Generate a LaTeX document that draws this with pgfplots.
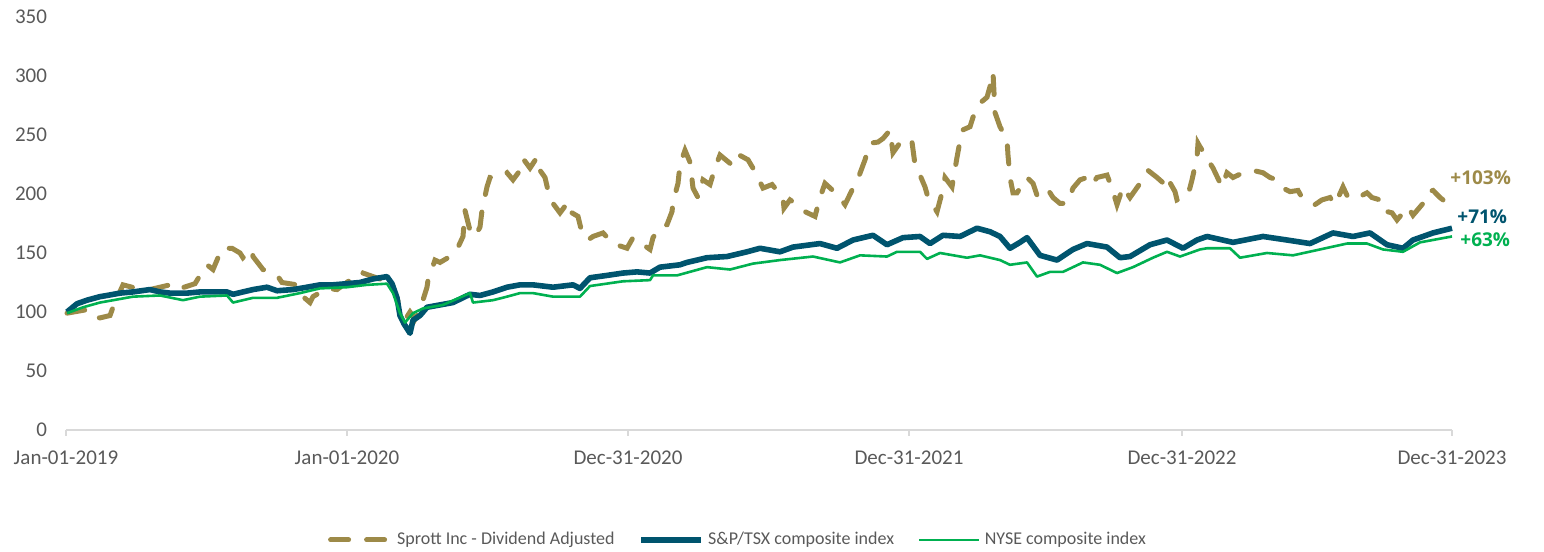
\documentclass[border=0pt]{standalone}
\usepackage{pgfplots}
\usepackage{pgfplotstable}
\pgfplotsset{compat=1.18}
\usepackage{fontspec}
\setmainfont{Carlito}
\newfontfamily\pctfont{Open Sans}
\definecolor{sgold}{RGB}{157,138,72}
\definecolor{sblue}{RGB}{0,84,110}
\definecolor{sgreen}{RGB}{0,176,80}
\definecolor{axgray}{RGB}{217,217,217}
\definecolor{txtgray}{RGB}{89,89,89}

\pgfplotstableread{
x y
1 99
21 102
27 96
34 95
44 97
47 104
57 123
66 121
76 120
84 119
104 123
111 119
129 124
134 131
141 140
147 136
156 154
166 154
174 150
177 146
186 153
187 147
197 136
204 134
212 130
216 125
231 123
237 113
244 108
247 113
261 120
271 119
284 127
291 127
297 133
307 130
317 127
324 129
334 104
341 96
344 100
349 94
354 102
361 121
362 127
369 144
374 142
384 147
391 153
397 164
399 186
404 169
409 164
414 172
416 186
421 206
424 214
434 214
441 218
447 212
454 220
457 230
464 222
471 231
474 220
479 214
482 203
487 192
494 184
502 193
504 185
512 181
516 167
522 161
527 164
537 167
547 158
561 154
567 163
584 153
587 163
594 172
601 174
606 185
607 193
612 209
614 225
619 237
624 227
627 205
632 197
637 212
644 208
649 222
654 233
664 226
669 235
682 229
689 219
697 205
706 208
717 197
718 188
724 195
731 191
739 185
749 181
754 197
759 209
772 199
779 191
787 205
792 213
799 229
804 243
812 244
817 247
824 254
827 235
837 247
846 244
849 225
854 216
859 206
862 197
871 185
876 201
879 214
886 206
891 231
896 254
904 257
907 265
914 277
921 282
924 291
927 303
929 269
934 257
941 246
942 233
944 214
947 201
951 201
961 214
967 209
971 199
981 205
987 197
994 192
1001 192
1007 205
1014 212
1021 214
1026 208
1031 214
1041 216
1046 205
1051 191
1057 206
1064 197
1074 209
1082 220
1091 214
1099 208
1101 214
1109 202
1111 195
1122 199
1126 212
1131 231
1132 243
1134 240
1137 236
1144 226
1147 222
1156 206
1161 218
1167 214
1177 218
1187 220
1197 218
1204 214
1211 212
1217 205
1224 202
1232 203
1236 197
1249 191
1256 195
1264 197
1269 191
1277 206
1282 197
1292 197
1301 201
1306 197
1314 195
1317 186
1326 184
1331 178
1342 189
1347 182
1357 192
1362 202
1367 203
1374 197
1377 195
}\sprott

\pgfplotstableread{
x y
1 100
11 107
21 110
34 113
41 114
54 116
67 117
84 119
94 117
104 116
121 116
134 117
147 117
161 117
167 115
187 119
201 121
211 118
227 119
241 121
254 123
267 123
281 124
294 125
307 128
321 130
326 124
331 112
334 97
338 90
341 86
344 82
347 93
354 97
361 104
374 106
387 108
404 115
414 114
427 117
441 121
454 123
467 123
487 121
507 123
514 120
524 129
541 131
557 133
571 134
584 133
594 138
614 140
621 142
641 146
661 147
681 151
694 154
714 151
727 155
754 158
771 154
787 161
807 165
821 157
837 163
854 164
864 158
877 165
894 164
911 171
924 168
934 164
944 154
954 159
961 163
974 148
991 144
1007 153
1021 158
1041 155
1054 146
1064 147
1084 157
1101 161
1117 154
1131 161
1141 164
1167 159
1197 164
1221 161
1244 158
1267 167
1287 164
1304 167
1321 157
1337 154
1347 161
1367 167
1386 171
}\tsx

\pgfplotstableread{
x y
1 99
17 104
34 108
67 113
94 114
117 110
134 113
161 114
167 108
187 112
211 112
234 116
254 120
281 121
301 123
321 124
327 116
334 99
339 91
347 99
357 103
377 106
404 116
407 108
427 110
441 113
454 116
467 116
487 113
514 113
524 122
557 126
584 127
587 131
611 131
641 138
664 136
687 141
714 144
747 147
774 142
794 148
821 147
831 151
854 151
861 145
874 150
901 146
914 148
934 144
944 140
961 142
971 130
984 134
997 134
1017 142
1034 140
1051 133
1067 138
1087 146
1101 151
1114 147
1134 153
1141 154
1164 154
1174 146
1201 150
1227 148
1254 153
1281 158
1301 158
1317 153
1337 151
1354 159
1386 164
}\nyse

\begin{document}
\begin{tikzpicture}
\begin{axis}[
  scale only axis,
  width=693pt, height=206.5pt,
  xmin=0, xmax=1386, ymin=0, ymax=350,
  axis x line*=bottom, axis y line*=left,
  x axis line style={-, color=axgray, line width=0.8pt},
  y axis line style={draw=none},
  xtick={0,281,562,843,1116,1386},
  xticklabels={Jan-01-2019,Jan-01-2020,Dec-31-2020,Dec-31-2021,Dec-31-2022,Dec-31-2023},
  ytick={0,50,...,350},
  tick align=outside,
  major tick length=3pt,
  x tick style={color=axgray, line width=0.8pt},
  y tick style={draw=none},
  /pgf/number format/assume math mode=true,
  tick label style={font=\fontsize{10.5}{12}\selectfont, text=txtgray},
  yticklabel style={xshift=-3pt},
  xticklabel style={yshift=-4pt},
  clip=false,
  legend style={draw=none, fill=none, at={(axis description cs:0.4856,-0.266)}, anchor=center,
    font=\fontsize{9}{10}\selectfont, text=txtgray, legend columns=3,
    /tikz/every even column/.append style={column sep=10pt},
    inner sep=0pt},
  legend cell align=left,
  legend image code/.code={\draw[#1] (0pt,0pt) -- (30pt,0pt);},
]
\addplot[sgold, line width=2.5pt, line cap=round, dash pattern=on 9pt off 9pt] table[x=x,y=y] {\sprott};
\addlegendentry{Sprott Inc - Dividend Adjusted}
\addplot[sblue, line width=2.8pt, line join=round] table[x=x,y=y] {\tsx};
\addlegendentry{S\&P/TSX composite index}
\addplot[sgreen, line width=1.3pt, line join=round] table[x=x,y=y] {\nyse};
\addlegendentry{NYSE composite index}
\node[anchor=west, text=sgold, font=\pctfont\bfseries\fontsize{9.5}{11}\selectfont, inner sep=0pt] at (axis cs:1384,213.6) {+103\%};
\node[anchor=west, text=sblue, font=\pctfont\bfseries\fontsize{9.5}{11}\selectfont, inner sep=0pt] at (axis cs:1391,180.5) {+71\%};
\node[anchor=west, text=sgreen, font=\pctfont\bfseries\fontsize{9.5}{11}\selectfont, inner sep=0pt] at (axis cs:1394,161) {+63\%};
\end{axis}
\path ([xshift=-33pt,yshift=-59.5pt]current axis.south west) rectangle ([xshift=46pt,yshift=8.5pt]current axis.north east);
\end{tikzpicture}
\end{document}
